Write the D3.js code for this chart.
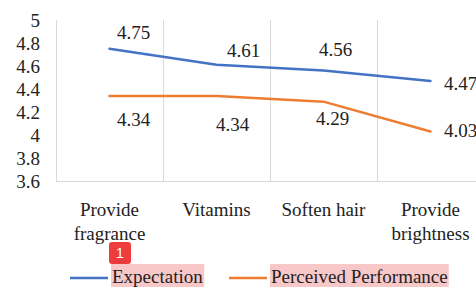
<!DOCTYPE html>
<html>
<head>
<meta charset="utf-8">
<script src="https://cdn.jsdelivr.net/npm/d3@7"></script>
<style>body { margin: 0; background: #fff; }</style>
</head>
<body>
<svg id="chart" width="476" height="287"></svg>
<script>
/* ------------------ data ------------------ */

const categories = [["Provide", "fragrance"], ["Vitamins"], ["Soften hair"], ["Provide", "brightness"]];
const expectation = [4.75, 4.61, 4.56, 4.47];
const perceived = [4.34, 4.34, 4.29, 4.03];
const yTicks = [3.6, 3.8, 4, 4.2, 4.4, 4.6, 4.8, 5];
const seriesNames = ["Expectation", "Perceived Performance"];

/* ------------------ constants ------------------ */

const COLORS = ["#4472C4", "#ED7D31"];
const MARGIN = { top: 20, left: 56, right: -8, bottom: 106 };
const W = 476, H = 287;
const FONT = 19;
const SERIF = "'Liberation Serif'";
const TEXT_COLOR = "#222";

// label offsets (px) from each point, like Excel's hand-placed data labels
const expLabelOffsets = [[24, -16], [27, -15], [12, -21], [30, 2]];
const percLabelOffsets = [[24, 23], [16, 28], [9, 17], [30, -1]];

/* ------------------ render ------------------ */

const svg = d3.select("#chart");

const x = d3.scaleBand()
  .domain(d3.range(categories.length))
  .range([MARGIN.left, W - MARGIN.right])
  .paddingInner(0).paddingOuter(0);

const y = d3.scaleLinear()
  .domain([3.6, 5])
  .range([H - MARGIN.bottom, MARGIN.top]);

const cx = i => x(i) + x.bandwidth() / 2;

function styleText(sel) {
  return sel
    .attr("font-size", FONT)
    .style("font-family", SERIF)
    .attr("fill", TEXT_COLOR);
}

// vertical gridlines at category boundaries
const edges = d3.range(categories.length + 1).map(i => MARGIN.left + i * x.bandwidth());
svg.append("g")
  .selectAll("line")
  .data(edges)
  .join("line")
  .attr("x1", d => d + 0.5).attr("x2", d => d + 0.5)
  .attr("y1", y(5)).attr("y2", y(3.6))
  .attr("stroke", "#d9d9d9")
  .attr("stroke-width", 1);

// bottom axis line
svg.append("line")
  .attr("x1", MARGIN.left).attr("x2", W)
  .attr("y1", y(3.6) + 0.5).attr("y2", y(3.6) + 0.5)
  .attr("stroke", "#d9d9d9");

// y tick labels
svg.append("g")
  .selectAll("text")
  .data(yTicks)
  .join("text")
  .attr("x", 40)
  .attr("y", d => y(d))
  .attr("dy", "0.35em")
  .attr("text-anchor", "end")
  .call(styleText)
  .text(d3.format("~g"));

// category labels
const cat = svg.append("g")
  .selectAll("text")
  .data(categories)
  .join("text")
  .attr("text-anchor", "middle")
  .call(styleText);

cat.selectAll("tspan")
  .data((d, i) => d.map(s => ({ s, i })))
  .join("tspan")
  .attr("x", d => cx(d.i))
  .attr("y", (d, j) => 216 + j * 24)
  .text(d => d.s);

// lines
const line = d3.line()
  .x((d, i) => cx(i))
  .y(d => y(d));

[expectation, perceived].forEach((vals, k) => {
  svg.append("path")
    .datum(vals)
    .attr("d", line)
    .attr("fill", "none")
    .attr("stroke", COLORS[k])
    .attr("stroke-width", 2.5)
    .attr("stroke-linejoin", "round")
    .attr("stroke-linecap", "round");
});

// data labels
function labels(vals, offsets) {
  svg.append("g")
    .selectAll("text")
    .data(vals)
    .join("text")
    .attr("x", (d, i) => cx(i) + offsets[i][0])
    .attr("y", (d, i) => y(d) + offsets[i][1])
    .attr("dy", "0.35em")
    .attr("text-anchor", "middle")
    .call(styleText)
    .text(d => d.toFixed(2));
}
labels(expectation, expLabelOffsets);
labels(perceived, percLabelOffsets);

/* ------------------ legend ------------------ */

const legendX = [70, 229];
const leg = svg.append("g")
  .selectAll("g")
  .data(seriesNames)
  .join("g")
  .attr("transform", (d, i) => `translate(${legendX[i]},278)`);

leg.append("line")
  .attr("x1", 0).attr("x2", 38)
  .attr("stroke", (d, i) => COLORS[i])
  .attr("stroke-width", 2.5);

const legText = leg.append("text")
  .attr("x", 42)
  .attr("y", 5)
  .call(styleText)
  .text(d => d);

// highlight boxes behind legend text
legText.each(function () {
  const b = this.getBBox();
  d3.select(this.parentNode)
    .insert("rect", "text")
    .attr("x", b.x - 1)
    .attr("y", -14)
    .attr("width", b.width + 2)
    .attr("height", 24)
    .attr("fill", "#f8c8c8");
});

// badge
const badge = svg.append("g").attr("transform", "translate(109,242)");
badge.append("rect")
  .attr("width", 22).attr("height", 22)
  .attr("rx", 3)
  .attr("fill", "#ee3b3b");
badge.append("text")
  .attr("x", 11).attr("y", 11)
  .attr("dy", "0.35em")
  .attr("text-anchor", "middle")
  .style("font-family", "'Liberation Sans'")
  .attr("font-size", 14)
  .attr("fill", "#fff")
  .text("1");
</script>
</body>
</html>
